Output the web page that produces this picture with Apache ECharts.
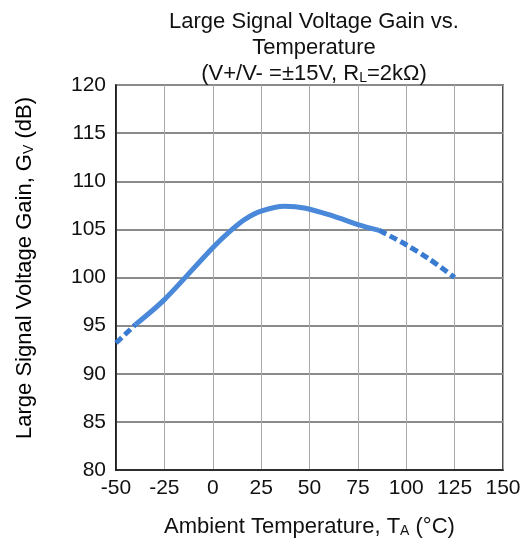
<!DOCTYPE html>
<html><head><meta charset="utf-8">
<script src="https://cdn.jsdelivr.net/npm/echarts@6/dist/echarts.min.js"></script>
<style>html,body{margin:0;padding:0;background:#fff}#c{width:530px;height:543px}</style>
</head><body><div id="c"></div>
<script>
const xTicks = [-50, -25, 0, 25, 50, 75, 100, 125, 150];
const yTicks = [80, 85, 90, 95, 100, 105, 110, 115, 120];
const dashedLow = [[-50, 93.2], [-40, 95.1]];
const solidMeasured = [[-40, 95.1], [-25, 97.7], [0, 103.1], [10, 105.0], [17, 106.1], [25, 106.9], [37, 107.4], [48, 107.2], [62, 106.4], [75, 105.5], [86, 104.9]];
const dashedHigh = [[86, 104.9], [100, 103.4], [112, 101.9], [125, 100.0]];

const F = 'Liberation Sans, Arial, sans-serif';
const chart = echarts.init(document.getElementById('c'));
const lineCol = '#4a88da';
const rich = {
  t: { fontFamily: F, fontSize: 22, color: '#111', fontWeight: 'normal' },
  s: { fontFamily: F, fontSize: 14, color: '#111', fontWeight: 'normal', padding: [9, 0, 0, 0] }
};
chart.setOption({
  animation: false,
  title: {
    left: 309, top: 4, textAlign: 'center',
    text: '{t|Large Signal Voltage Gain vs.}\n{t|Temperature}\n{t|(V+/V- =±15V, R}{s|L}{t|=2kΩ)}',
    textStyle: {
      fontWeight: 'normal',
      rich: {
        t: { fontFamily: F, fontSize: 22, color: '#111', lineHeight: 26, fontWeight: 'normal' },
        s: { fontFamily: F, fontSize: 14, color: '#111', lineHeight: 26, fontWeight: 'normal', padding: [9, 0, 0, 0] }
      }
    }
  },
  graphic: [{
    type: 'text', x: 25, y: 268, rotation: Math.PI / 2,
    style: {
      text: '{t|Large Signal Voltage Gain, G}{s|V}{t| (dB)}',
      rich, align: 'center', verticalAlign: 'middle'
    }
  }],
  grid: { left: 116, right: 27, top: 85, bottom: 72, containLabel: false,
    show: true, borderColor: '#111', borderWidth: 1.5, backgroundColor: 'transparent' },
  xAxis: {
    type: 'value', min: -50, max: 150, interval: 25,
    axisLine: { show: true, onZero: false, lineStyle: { color: '#111', width: 1.5 } },
    axisTick: { show: false },
    splitLine: { show: true, lineStyle: { color: '#a8a8a8', width: 1 } },
    axisLabel: { fontFamily: F, fontSize: 21, color: '#111', margin: 8,
      formatter: v => xTicks.includes(v) ? String(v) : '' },
    name: '{t|Ambient Temperature, T}{s|A}{t| (°C)}',
    nameLocation: 'middle', nameGap: 45,
    nameTextStyle: { rich }
  },
  yAxis: {
    type: 'value', min: 80, max: 120, interval: 5,
    axisLine: { show: true, onZero: false, lineStyle: { color: '#111', width: 1.5 } },
    axisTick: { show: false },
    splitLine: { show: true, lineStyle: { color: '#8a8a8a', width: 2 } },
    axisLabel: { fontFamily: F, fontSize: 21, color: '#111', margin: 10,
      formatter: v => yTicks.includes(v) ? String(v) : '' }
  },
  series: [
    { type: 'line', data: solidMeasured, smooth: 0.3, showSymbol: false,
      lineStyle: { color: lineCol, width: 5 } },
    { type: 'line', data: dashedLow, showSymbol: false,
      lineStyle: { color: '#3a7bd2', width: 5, type: [8, 4] } },
    { type: 'line', data: dashedHigh, smooth: 0.3, showSymbol: false,
      lineStyle: { color: '#3a7bd2', width: 5, type: [8, 4] } }
  ]
});
</script></body></html>
